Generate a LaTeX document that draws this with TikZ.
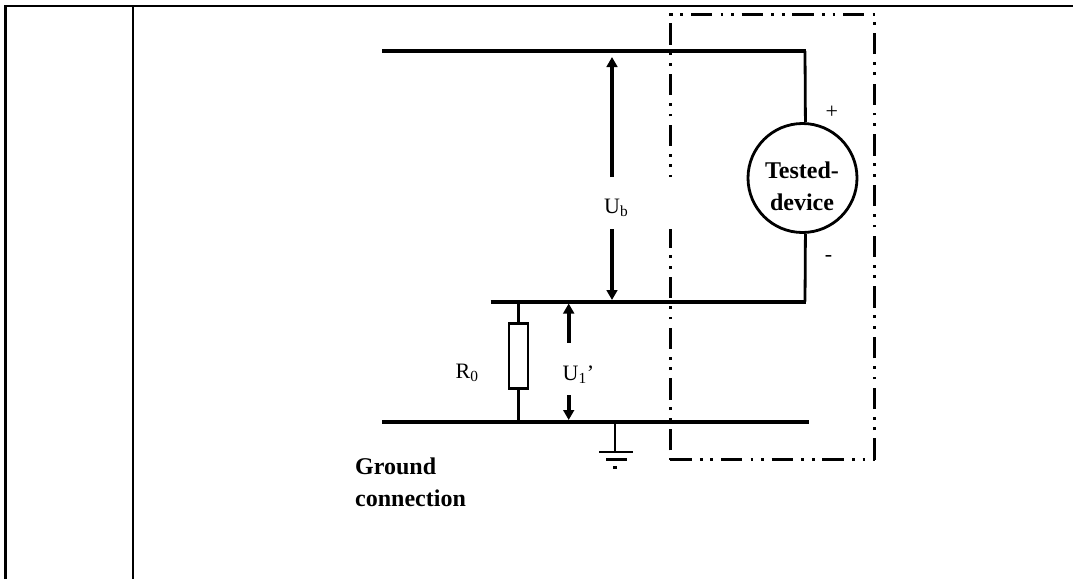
\documentclass[tikz,border=0pt]{standalone}
\usepackage{fontspec}
\setmainfont{Liberation Serif}
\usetikzlibrary{arrows.meta}
\tikzset{
  frameline/.style={line width=2.5pt},
  rail/.style={line width=4pt},
  wire/.style={line width=2.8pt},
  voltarrow/.style={line width=4pt,-{Triangle[length=10pt,width=10.7pt]}},
  devicebox/.style={line width=2.8pt,dash pattern=on 21.3pt off 8.3pt on 2.8pt off 7.7pt on 2.8pt off 7.8pt},
  plainlabel/.style={inner sep=0pt,font=\fontsize{22}{24}\selectfont},
  boldlabel/.style={inner sep=0pt,align=left,font=\fontsize{24}{32}\selectfont\bfseries}
}
\begin{document}
\begin{tikzpicture}[x=1pt,y=-1pt]
\useasboundingbox (0,0) rectangle (1073,579);
% table frame
\coordinate (frameTL) at (5.3,5.8);
\coordinate (frameTR) at (1073,5.8);
\coordinate (frameBL) at (5.3,579);
\coordinate (midT) at (133,5.8);
\coordinate (midB) at (133,579);
\draw[frameline](frameBL)--(frameTL)--(frameTR);
\draw[frameline](midT)--(midB);
%
\coordinate (topL) at (382,51);
\coordinate (topR) at (806,51);
\coordinate (midL) at (490.7,301.7);
\coordinate (midR) at (806,301.7);
\coordinate (lowL) at (382,421.7);
\coordinate (lowR) at (809,421.7);
\draw[rail](topL)--(topR);
\draw[rail](midL)--(midR);
\draw[rail](lowL)--(lowR);
%
\node[circle,draw,line width=2.8pt,minimum size=109pt,inner sep=0pt] (device) at (802.5,178) {};
\node[boldlabel,align=center,anchor=base] (devicetext) at (802,178) {Tested-};
\node[boldlabel,align=center,anchor=base] (devicetext2) at (802,210) {device};
\coordinate (devTop) at (805,51);
\coordinate (devBot) at (805,301.7);
\draw[wire](devTop)--(device.87.4);
\draw[wire](device.-87.4)--(devBot);
\node[plainlabel] (plus) at (831.7,112) {+};
\node[plainlabel] (minus) at (828.5,258) {-};
%
\node[draw,line width=2.8pt,minimum width=19pt,minimum height=64.5pt,inner sep=0pt] (res) at (518.4,356) {};
\coordinate (resT) at (518.4,301.7);
\coordinate (resB) at (518.4,421.7);
\draw[wire](resT)--(res.north);
\draw[wire](res.south)--(resB);
\node[plainlabel,anchor=base west] (rlabel) at (455.5,378.3) {R\textsubscript{0}};
%
\coordinate (ubTop) at (612,57);
\coordinate (ubBot) at (612,300);
\coordinate (ubGapA) at (612,177);
\coordinate (ubGapB) at (612,229);
\node[plainlabel,anchor=base west] (ub) at (604,213) {U\textsubscript{b}};
\draw[voltarrow](ubGapA)--(ubTop);
\draw[voltarrow](ubGapB)--(ubBot);
%
\coordinate (u1Top) at (568.7,303.5);
\coordinate (u1Bot) at (568.7,420);
\coordinate (u1GapA) at (568.7,342.7);
\coordinate (u1GapB) at (568.7,395);
\node[plainlabel,anchor=base west] (u1) at (562.5,380.7) {U\textsubscript{1}’};
\draw[voltarrow](u1GapA)--(u1Top);
\draw[voltarrow](u1GapB)--(u1Bot);
%
\coordinate (gndT) at (615,421.7);
\coordinate (gndB) at (615,452);
\coordinate (gndA1) at (599.3,452);
\coordinate (gndA2) at (632.7,452);
\coordinate (gndB1) at (606,459.3);
\coordinate (gndB2) at (626.7,459.3);
\coordinate (gndC1) at (613.3,467.3);
\coordinate (gndC2) at (616.7,467.3);
\draw[wire](gndT)--(gndB);
\draw[wire](gndA1)--(gndA2);
\draw[wire](gndB1)--(gndB2);
\draw[wire](gndC1)--(gndC2);
%
\node[boldlabel,anchor=base west] (gndlabel) at (355,474) {Ground};
\node[boldlabel,anchor=base west] (gndlabel2) at (355,506) {connection};
% device outline
\coordinate (boxA) at (670.3,177);
\coordinate (boxB) at (670.3,14.5);
\coordinate (boxC) at (874.7,14.5);
\coordinate (boxD) at (874.7,459.7);
\coordinate (boxE) at (670.3,459.7);
\coordinate (boxF) at (670.3,229);
\draw[devicebox,dash phase=41.3pt](boxE)--(boxF);
\draw[devicebox,dash phase=19.6pt](boxA)--(boxB)--(boxC);
\draw[devicebox](boxE)--(boxD);
\draw[devicebox](boxD)--(boxC);
\end{tikzpicture}
\end{document}
